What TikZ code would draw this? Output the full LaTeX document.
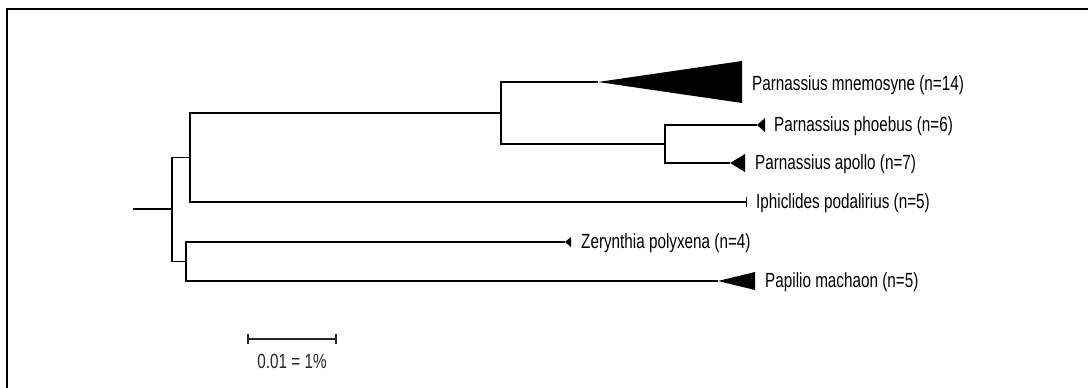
\documentclass[tikz,border=0pt]{standalone}
\usepackage{fontspec}
\setmainfont{Liberation Sans}[FakeStretch=0.745]
\begin{document}
\begin{tikzpicture}[x=1pt,y=-1pt,
  branch/.style={line width=1.6pt,black},
  clade/.style={fill=black,draw=none},
  taxon/.style={anchor=west,inner sep=0pt,font=\fontsize{20.5}{24}\selectfont},
  frameline/.style={line width=2pt,black}]
\useasboundingbox (0,0) rectangle (1088,388);
% frame (top and left edges)
\draw[frameline] (1088,9) -- (7,9) -- (7,388);

% internal nodes
\coordinate (rs) at (133,209);
\coordinate (n0) at (172,209);
\coordinate (n1) at (190,157.5);
\coordinate (n2) at (501,113);
\coordinate (n3) at (665,144);
\coordinate (nL) at (186,261.5);

% tips
\coordinate (tMn) at (598,82);
\coordinate (tPh) at (757,125);
\coordinate (tAp) at (730,163);
\coordinate (tIp) at (746,202);
\coordinate (tZe) at (565,242);
\coordinate (tPa) at (718,281);

% branches
\draw[branch] (rs) -- (n0);
\draw[branch] (n0) |- (n1);
\draw[branch] (n0) |- (nL);
\draw[branch] (n1) |- (n2);
\draw[branch] (n1) |- (tIp);
\draw[branch] (n2) |- (tMn);
\draw[branch] (n2) |- (n3);
\draw[branch] (n3) |- (tPh);
\draw[branch] (n3) |- (tAp);
\draw[branch] (nL) |- (tZe);
\draw[branch] (nL) |- (tPa);

% collapsed clades
\fill[clade] (tMn) -- ++(144,-21) -- ++(0,42) -- cycle;
\fill[clade] (tPh) -- ++(8,-7) -- ++(0,14) -- cycle;
\fill[clade] (tAp) -- ++(15,-9) -- ++(0,18) -- cycle;
\fill[clade] (tZe) -- ++(6,-5) -- ++(0,10) -- cycle;
\fill[clade] (tPa) -- ++(37,-9) -- ++(0,18) -- cycle;
\draw[line width=1pt] ([yshift=-5pt]tIp) -- ([yshift=5pt]tIp);

% labels
\node[taxon] (lMn) at (752,85) {Parnassius mnemosyne (n=14)};
\node[taxon] (lPh) at (774,126) {Parnassius phoebus (n=6)};
\node[taxon] (lAp) at (755,164) {Parnassius apollo (n=7)};
\node[taxon] (lIp) at (756,203) {Iphiclides podalirius (n=5)};
\node[taxon] (lZe) at (581,243) {Zerynthia polyxena (n=4)};
\node[taxon] (lPa) at (765,282) {Papilio machaon (n=5)};

% scale bar
\coordinate (sa) at (248,339);
\coordinate (sb) at (336,339);
\draw[line width=1.2pt,black!85] (sa) -- (sb);
\draw[line width=1.2pt,black!85] ([yshift=-5pt]sa) -- ([yshift=5pt]sa);
\draw[line width=1.2pt,black!85] ([yshift=-5pt]sb) -- ([yshift=5pt]sb);
\node[taxon,anchor=center,text=black!85] (scl) at (292,361) {0.01 = 1\%};
\end{tikzpicture}
\end{document}
